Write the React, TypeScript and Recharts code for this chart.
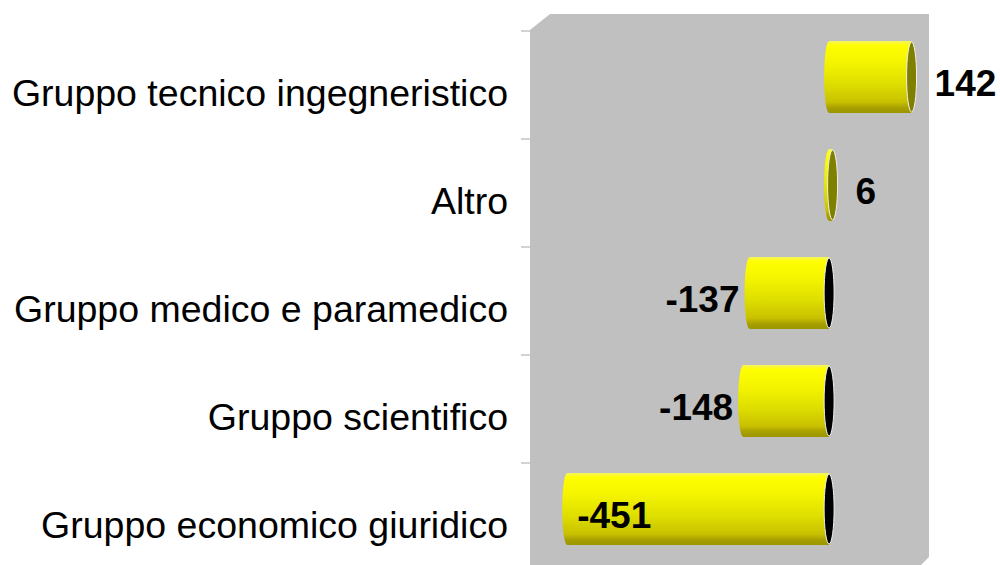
import React from 'react'
import { BarChart, Bar, XAxis, YAxis, LabelList } from 'recharts'

const categorie = [
  'Gruppo tecnico ingegneristico',
  'Altro',
  'Gruppo medico e paramedico',
  'Gruppo scientifico',
  'Gruppo economico giuridico',
]
const saldi = [142, 6, -137, -148, -451]
const dominio: [number, number] = [-515, 172]

const data = categorie.map((c, i) => ({ gruppo: c, saldo: saldi[i] }))

const W = 1000
const H = 565
const PLOT = { left: 530, top: 23, right: 929, bottom: 563 }
const FONT = '"Liberation Sans", Arial, sans-serif'

function Cilindro(props: any) {
  const { x, y, width, height, value } = props
  const x0 = Math.min(x, x + width)
  const x1 = Math.max(x, x + width)
  const ry = height / 2
  const cy = y + ry
  const neg = value < 0
  return (
    <g>
      <ellipse cx={x0} cy={cy} rx={5} ry={ry} fill="url(#cyl)" />
      <rect x={x0} y={y} width={Math.max(x1 - x0, 0.5)} height={height} fill="url(#cyl)" />
      <ellipse cx={x1} cy={cy} rx={5} ry={ry - 1} fill={neg ? '#000000' : '#808000'} stroke="#f0f0f0" strokeWidth={1} />
    </g>
  )
}

function Etichetta(props: any) {
  const { x, y, width, height, value } = props
  const x0 = Math.min(x, x + width)
  const x1 = Math.max(x, x + width)
  const by = y + height / 2 + 19
  let tx = x1 + 23
  let anchor: 'start' | 'end' = 'start'
  if (value < 0) {
    if (x0 - 90 > PLOT.left) {
      tx = x0 - 10
      anchor = 'end'
    } else {
      tx = x0 + 10
    }
  }
  return (
    <text x={tx} y={by} textAnchor={anchor} fontFamily={FONT} fontWeight="bold" fontSize={37} fill="#000">
      {value}
    </text>
  )
}

function TickCategoria(props: any) {
  const { y, payload } = props
  const band = (PLOT.bottom - PLOT.top) / categorie.length
  const ty = y - band / 2 + 8
  return (
    <g>
      <line x1={PLOT.left - 9} x2={PLOT.left} y1={ty} y2={ty} stroke="#a8a8a8" strokeWidth={1} />
      <text x={PLOT.left - 22} y={y + 29} textAnchor="end" fontFamily={FONT} fontSize={37.5} fill="#000">
        {payload.value}
      </text>
    </g>
  )
}

export default function App() {
  const sfondo = [
    [PLOT.left, PLOT.top + 7],
    [PLOT.left + 20, PLOT.top - 9],
    [PLOT.right, PLOT.top - 9],
    [PLOT.right, PLOT.bottom - 6],
    [PLOT.right - 8, PLOT.bottom + 2],
    [PLOT.left, PLOT.bottom + 2],
  ].map(p => p.join(',')).join(' ')

  return (
    <div style={{ position: 'absolute', left: 0, top: 0, width: W, height: H, background: '#fff', overflow: 'hidden' }}>
      <svg width={W} height={H} style={{ position: 'absolute', left: 0, top: 0 }}>
        <polygon points={sfondo} fill="#c0c0c0" />
      </svg>
      <div style={{ position: 'absolute', left: 0, top: 0 }}>
        <BarChart
          width={W}
          height={H}
          data={data}
          layout="vertical"
          margin={{ top: PLOT.top, right: W - PLOT.right, bottom: H - PLOT.bottom, left: 10 }}
          barSize={72}
        >
          <defs>
            <linearGradient id="cyl" x1="0" y1="0" x2="0" y2="1">
              <stop offset="0" stopColor="#f4f460" />
              <stop offset="0.06" stopColor="#ffff00" />
              <stop offset="0.3" stopColor="#f4f400" />
              <stop offset="0.6" stopColor="#dede00" />
              <stop offset="0.85" stopColor="#c8c000" />
              <stop offset="0.92" stopColor="#aaa200" />
              <stop offset="1" stopColor="#9c9400" />
            </linearGradient>
          </defs>
          <XAxis type="number" domain={dominio} allowDataOverflow hide />
          <YAxis
            type="category"
            dataKey="gruppo"
            width={PLOT.left - 10}
            axisLine={false}
            tickLine={false}
            tickSize={0}
            tickMargin={0}
            interval={0}
            tick={<TickCategoria />}
          />
          <Bar dataKey="saldo" shape={<Cilindro />} isAnimationActive={false}>
            <LabelList dataKey="saldo" content={<Etichetta />} />
          </Bar>
        </BarChart>
      </div>
    </div>
  )
}
